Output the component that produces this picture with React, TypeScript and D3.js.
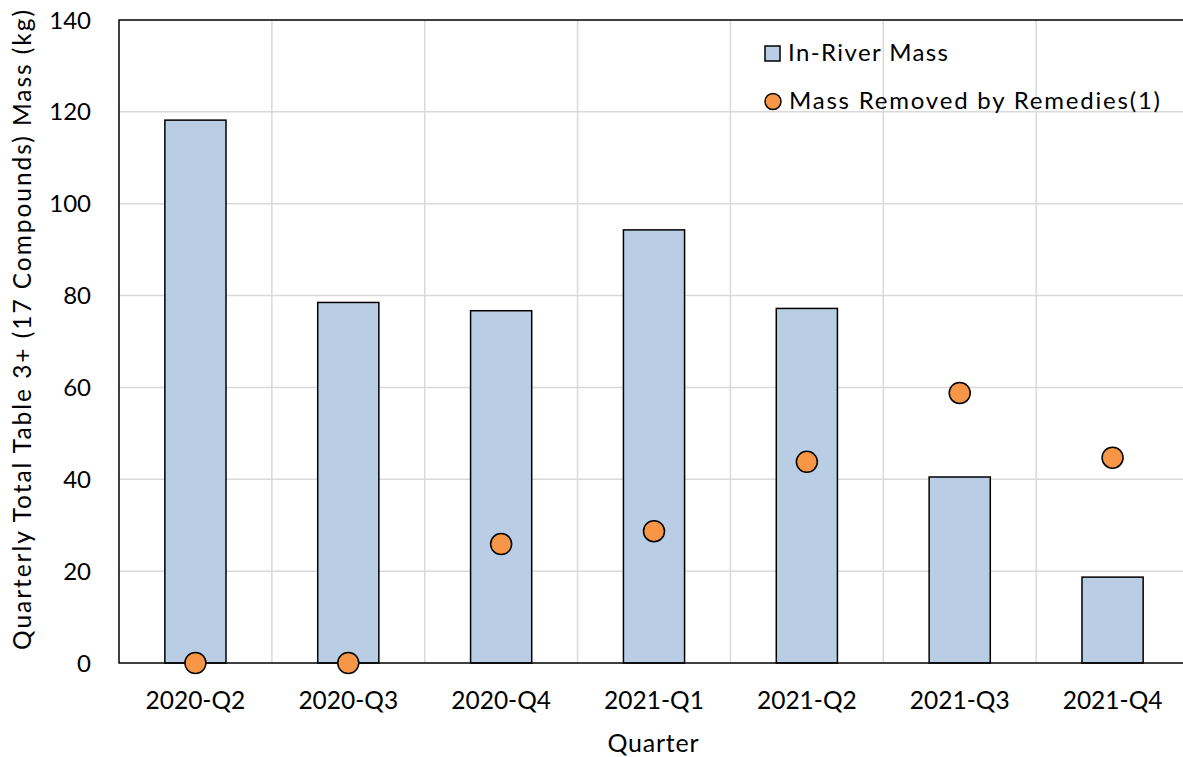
import * as d3 from 'd3'

const QUARTERS = ['2020-Q2', '2020-Q3', '2020-Q4', '2021-Q1', '2021-Q2', '2021-Q3', '2021-Q4']
const IN_RIVER = [118.2, 78.5, 76.7, 94.3, 77.2, 40.5, 18.7]
const REMOVED = [0, 0, 25.9, 28.7, 43.8, 58.8, 44.7]
const Y_TICKS = [0, 20, 40, 60, 80, 100, 120, 140]

const W = 1183
const H = 757
const MARGIN = { top: 20, left: 119, bottom: 663, right: 1189 }
const FONT = "Lato, 'Open Sans', sans-serif"
const BAR_FILL = '#B9CDE5'
const DOT_FILL = '#F79646'
const GRID = '#D9D9D9'

export default function App() {
  const x = d3.scaleBand<string>()
    .domain(QUARTERS)
    .range([MARGIN.left, MARGIN.right])
    .paddingInner(0.6)
    .paddingOuter(0.3)
  const step = x.step()
  const y = d3.scaleLinear().domain([0, 140]).range([MARGIN.bottom, MARGIN.top])

  return (
    <svg width={W} height={H} style={{ position: 'absolute', left: 0, top: 0, background: '#fff' }} fontFamily={FONT}>
      {/* grid */}
      {Y_TICKS.filter((t) => t > 0 && t < 140).map((t) => (
        <line key={t} x1={MARGIN.left} x2={MARGIN.right} y1={y(t)} y2={y(t)} stroke={GRID} strokeWidth={1.5} />
      ))}
      {QUARTERS.slice(1).map((q) => {
        const gx = (x(q) ?? 0) - (step - x.bandwidth()) / 2
        return <line key={q} x1={gx} x2={gx} y1={MARGIN.top} y2={MARGIN.bottom} stroke={GRID} strokeWidth={1.5} />
      })}

      {/* bars */}
      {QUARTERS.map((q, i) => (
        <rect key={q} x={x(q)} y={y(IN_RIVER[i])} width={x.bandwidth()} height={y(0) - y(IN_RIVER[i])}
          fill={BAR_FILL} stroke="#000" strokeWidth={1.5} />
      ))}

      {/* frame */}
      <rect x={MARGIN.left} y={MARGIN.top} width={MARGIN.right - MARGIN.left} height={MARGIN.bottom - MARGIN.top}
        fill="none" stroke="#000" strokeWidth={1.5} />

      {/* dots */}
      {QUARTERS.map((q, i) => (
        <circle key={q} cx={(x(q) ?? 0) + x.bandwidth() / 2} cy={y(REMOVED[i])} r={10.5}
          fill={DOT_FILL} stroke="#000" strokeWidth={1.5} />
      ))}

      {/* y ticks */}
      {Y_TICKS.map((t) => (
        <text key={t} x={91} y={y(t) + 8.5} textAnchor="end" fontSize={24} fill="#000">{t}</text>
      ))}
      {/* x ticks */}
      {QUARTERS.map((q) => (
        <text key={q} x={(x(q) ?? 0) + x.bandwidth() / 2} y={709} textAnchor="middle" fontSize={24.5} fill="#000">{q}</text>
      ))}

      <text x={653} y={752} textAnchor="middle" fontSize={25} textLength={91} lengthAdjust="spacing" fill="#000">Quarter</text>
      <text transform="translate(31,330) rotate(-90)" textAnchor="middle" fontSize={24.5}
        textLength={640} lengthAdjust="spacing" fill="#000">
        Quarterly Total Table 3+ (17 Compounds) Mass (kg)
      </text>

      {/* legend */}
      <rect x={765} y={46} width={15} height={15} fill={BAR_FILL} stroke="#000" strokeWidth={1.5} />
      <text x={788} y={61} fontSize={24} textLength={160} lengthAdjust="spacing" fill="#000">In-River Mass</text>
      <circle cx={773} cy={101.5} r={8} fill={DOT_FILL} stroke="#000" strokeWidth={1.5} />
      <text x={789} y={109} fontSize={24} textLength={371} lengthAdjust="spacing" fill="#000">Mass Removed by Remedies(1)</text>
    </svg>
  )
}
